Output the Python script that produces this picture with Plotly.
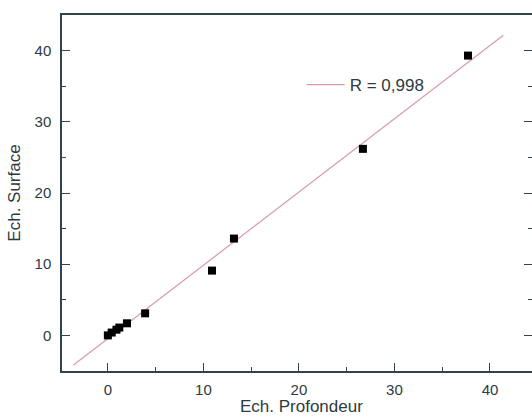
import numpy as np
import plotly.graph_objects as go

# Data
depth = [0.0, 0.4, 0.9, 1.2, 2.0, 3.9, 10.9, 13.2, 26.7, 37.7]
surface = [0.0, 0.4, 0.8, 1.1, 1.7, 3.1, 9.1, 13.6, 26.2, 39.3]
fit_x_range = [-3.6, 41.4]
legend_label = "R = 0,998"
x_title = "Ech. Profondeur"
y_title = "Ech. Surface"

slope, intercept = np.polyfit(depth, surface, 1)
fit_x = np.array(fit_x_range)
fit_y = slope * fit_x + intercept

axis_col = "#33434c"
text_col = "#2e3a40"
font_fam = "Liberation Sans, Arial, sans-serif"

fig = go.Figure()
fig.add_trace(go.Scatter(x=fit_x, y=fit_y, mode="lines",
                         line=dict(color="#d99aa8", width=1.2),
                         name=legend_label, showlegend=True))
fig.add_trace(go.Scatter(x=depth, y=surface, mode="markers",
                         marker=dict(symbol="square", size=8, color="black"),
                         showlegend=False))
# invisible trace for right-side ticks
fig.add_trace(go.Scatter(x=depth[:1], y=surface[:1], yaxis="y2", mode="markers",
                         marker=dict(opacity=0), showlegend=False, hoverinfo="skip"))

common = dict(showline=True, linecolor=axis_col, linewidth=1.5,
              ticks="inside", ticklen=8, tickwidth=1.2, tickcolor=axis_col,
              showgrid=False, zeroline=False,
              tickfont=dict(family=font_fam, size=15, color=text_col),
              tick0=0, dtick=10,
              minor=dict(ticks="inside", ticklen=4, tickwidth=1, tickcolor=axis_col, dtick=5))

fig.update_layout(
    width=532, height=418,
    margin=dict(l=62, r=0, t=15, b=47),
    paper_bgcolor="white", plot_bgcolor="white",
    font=dict(family=font_fam, color=text_col),
    xaxis=dict(range=[-4.8, 44.4], mirror=True, automargin=False,
               ticklabelstandoff=4, **common),
    yaxis=dict(range=[-5, 45], mirror=False, automargin=False,
               title=dict(text=y_title, font=dict(size=17, color=text_col), standoff=10),
               ticklabelstandoff=6, **common),
    yaxis2=dict(range=[-5, 45], overlaying="y", side="right", showline=False,
                ticks="inside", ticklen=8, tickcolor=axis_col, tickwidth=1.2,
                showticklabels=False, showgrid=False, zeroline=False, tick0=0, dtick=10,
                minor=dict(ticks="inside", ticklen=4, tickcolor=axis_col, dtick=5)),
    legend=dict(x=0.51, y=0.803, xanchor="left", yanchor="middle", itemwidth=38,
                bgcolor="rgba(0,0,0,0)", font=dict(size=17, color=text_col)),
    annotations=[dict(text=x_title, xref="paper", yref="paper", x=0.51, y=-0.101,
                      xanchor="center", yanchor="middle", showarrow=False,
                      font=dict(size=17, color=text_col, family=font_fam))],
)

fig.write_html("out.html")
